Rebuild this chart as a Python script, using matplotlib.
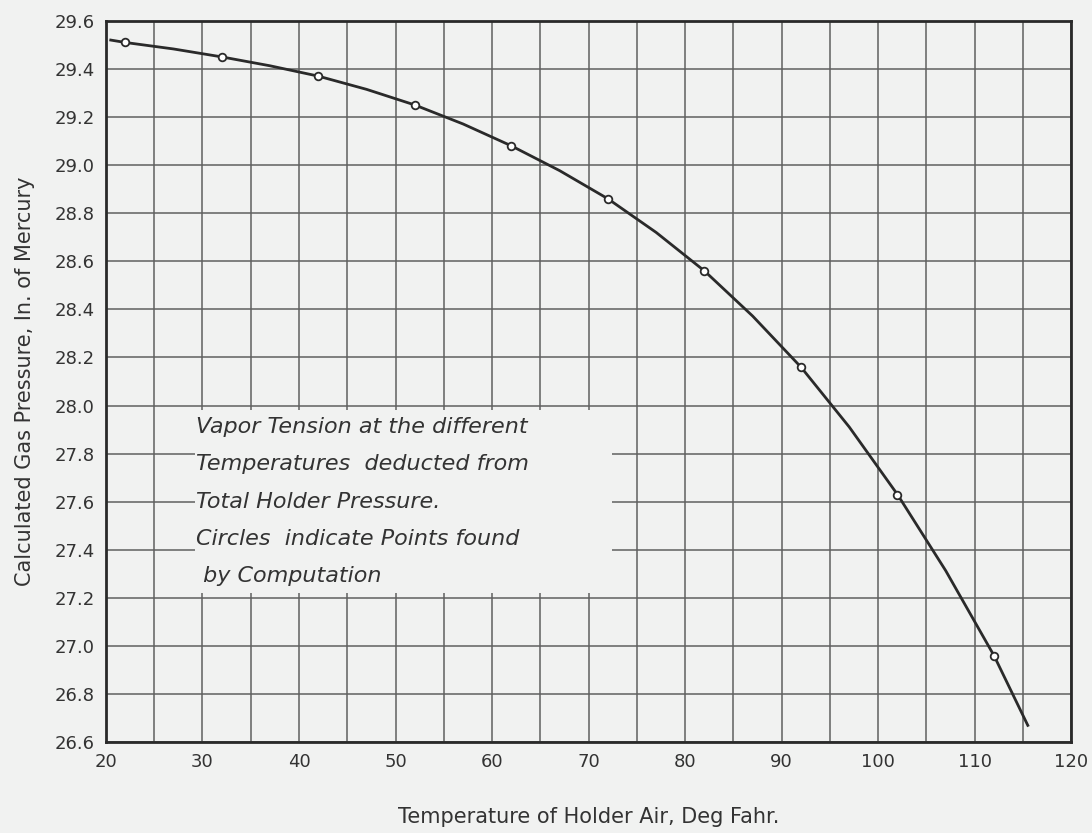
import numpy as np
import matplotlib.pyplot as plt
from matplotlib.patches import Rectangle

# computed points (circles)
temps = [22, 32, 42, 52, 62, 72, 82, 92, 102, 112]
pressures = [29.51, 29.45, 29.37, 29.25, 29.08, 28.86, 28.56, 28.16, 27.63, 26.96]

# drawn smooth curve
curve_t = [20.5, 22, 27, 32, 37, 42, 47, 52, 57, 62, 67, 72, 77, 82, 87, 92,
           97, 102, 107, 112, 115.5]
curve_p = [29.52, 29.51, 29.483, 29.45, 29.413, 29.37, 29.315, 29.25, 29.171,
           29.08, 28.977, 28.86, 28.72, 28.56, 28.372, 28.16, 27.911, 27.63,
           27.313, 26.96, 26.67]

x_ticks = [20, 30, 40, 50, 60, 70, 80, 90, 100, 110, 120]
y_ticks = [26.6, 26.8, 27.0, 27.2, 27.4, 27.6, 27.8, 28.0, 28.2, 28.4, 28.6,
           28.8, 29.0, 29.2, 29.4, 29.6]

note = ["Vapor Tension at the different",
        "Temperatures  deducted from",
        "Total Holder Pressure.",
        "Circles  indicate Points found",
        " by Computation"]

bg = "#f1f2f1"
ink = "#333333"

fig = plt.figure(figsize=(10.92, 8.33), dpi=100, facecolor=bg)
ax = fig.add_axes([0.097, 0.109, 0.884, 0.866], facecolor=bg)

ax.set_xlim(20, 120)
ax.set_ylim(26.6, 29.6)
ax.set_xticks(np.arange(20, 121, 5))
ax.set_xticklabels([str(v) if v in x_ticks else "" for v in range(20, 121, 5)])
ax.set_yticks(y_ticks)
ax.set_yticklabels([f"{v:.1f}" for v in y_ticks])
ax.tick_params(length=0, labelsize=13, colors=ink, pad=8)
ax.grid(True, color="#606060", lw=1.1, zorder=1)

for s in ax.spines.values():
    s.set_color("#2a2a2a")
    s.set_linewidth(2)

# blank area behind the note
ax.add_patch(Rectangle((29.2, 27.22), 43.2, 0.76, facecolor=bg, edgecolor="none", zorder=2))

ax.plot(curve_t, curve_p, color="#2a2a2a", lw=2, zorder=3)
ax.plot(temps, pressures, "o", ms=5.5, mfc="white", mec="#2a2a2a", mew=1.3, zorder=4)

y0 = 27.91
for i, line in enumerate(note):
    ax.text(29.3, y0 - i * 0.155, line, fontsize=16, style="italic", color=ink,
            va="center", ha="left", zorder=5)

ax.set_xlabel("Temperature of Holder Air, Deg Fahr.", fontsize=15, color=ink, labelpad=26)
ax.set_ylabel("Calculated Gas Pressure, In. of Mercury", fontsize=15, color=ink, labelpad=14)

fig.savefig("out.png", dpi=100, facecolor=bg)
